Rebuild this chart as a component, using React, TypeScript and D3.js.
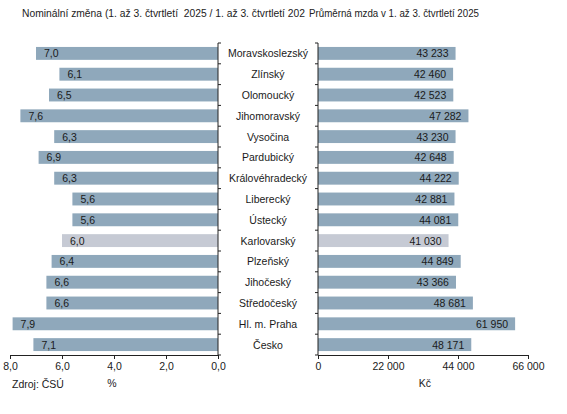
import { useRef, useEffect } from 'react';
import * as d3 from 'd3';

const regions = [
  'Moravskoslezský', 'Zlínský', 'Olomoucký', 'Jihomoravský', 'Vysočina', 'Pardubický',
  'Královéhradecký', 'Liberecký', 'Ústecký', 'Karlovarský', 'Plzeňský', 'Jihočeský',
  'Středočeský', 'Hl. m. Praha', 'Česko',
];
const nominalChange = [7.0, 6.1, 6.5, 7.6, 6.3, 6.9, 6.3, 5.6, 5.6, 6.0, 6.4, 6.6, 6.6, 7.9, 7.1];
const averageWage = [43233, 42460, 42523, 47282, 43230, 42648, 44222, 42881, 44081, 41030, 44849, 43366, 48681, 61950, 48171];
const changeTicks = [8, 6, 4, 2, 0];
const wageTicks = [0, 22000, 44000, 66000];
const highlighted = 'Karlovarský';

const leftTitle = 'Nominální změna (1. až 3. čtvrtletí  2025 / 1. až 3. čtvrtletí 202';
const rightTitle = 'Průměrná mzda v 1. až 3. čtvrtletí 2025';

const cz = d3.formatLocale({ decimal: ',', thousands: '\u00a0', grouping: [3], currency: ['', ' Kč'] });
const fmtPct = cz.format('.1f');
const fmtWage = cz.format(',.0f');

export default function App() {
  const svgRef = useRef<SVGSVGElement>(null);
  const width = 567;
  const height = 414;

  useEffect(() => {
    if (!svgRef.current) return;
    const svg = d3.select(svgRef.current);
    svg.selectAll('*').remove();

    const font = '"Liberation Sans", Arial, sans-serif';
    const barColor = '#8fa8bb';
    const greyColor = '#c6cad4';
    const axisColor = '#222';
    const top = 43;
    const bottom = 355;

    const y = d3.scaleBand().domain(regions).range([top, bottom]).paddingInner(0.38).paddingOuter(0.19);
    const xL = d3.scaleLinear().domain([0, 8]).range([218, 10]);
    const xR = d3.scaleLinear().domain([0, 66000]).range([318, 528]);

    const leftData = regions.map((r, i) => ({ r, v: nominalChange[i] }));
    const rightData = regions.map((r, i) => ({ r, v: averageWage[i] }));

    // Titles (the left one is cut off in the original)
    svg.append('text').attr('x', 22).attr('y', 17).attr('font-family', font).attr('font-size', 10)
      .attr('fill', '#222').attr('xml:space', 'preserve')
      .attr('textLength', 283).attr('lengthAdjust', 'spacingAndGlyphs').text(leftTitle);
    svg.append('text').attr('x', 309).attr('y', 17).attr('font-family', font).attr('font-size', 10)
      .attr('fill', '#222')
      .attr('textLength', 170).attr('lengthAdjust', 'spacingAndGlyphs').text(rightTitle);

    // Left bars
    svg.append('g').selectAll('rect').data(leftData).join('rect')
      .attr('x', (d) => xL(d.v))
      .attr('y', (d) => y(d.r)!)
      .attr('width', (d) => xL(0) - xL(d.v))
      .attr('height', y.bandwidth())
      .attr('fill', (d) => (d.r === highlighted ? greyColor : barColor));
    svg.append('g').selectAll('text').data(leftData).join('text')
      .attr('x', (d) => xL(d.v) + 8)
      .attr('y', (d) => y(d.r)! + y.bandwidth() / 2 + 4)
      .attr('font-family', font).attr('font-size', 10.5).attr('fill', '#1a1a1a')
      .text((d) => fmtPct(d.v));

    // Right bars
    svg.append('g').selectAll('rect').data(rightData).join('rect')
      .attr('x', xR(0))
      .attr('y', (d) => y(d.r)!)
      .attr('width', (d) => xR(d.v) - xR(0))
      .attr('height', y.bandwidth())
      .attr('fill', (d) => (d.r === highlighted ? greyColor : barColor));
    svg.append('g').selectAll('text').data(rightData).join('text')
      .attr('x', (d) => xR(d.v) - 7)
      .attr('y', (d) => y(d.r)! + y.bandwidth() / 2 + 4)
      .attr('text-anchor', 'end')
      .attr('font-family', font).attr('font-size', 10.5).attr('fill', '#1a1a1a')
      .text((d) => fmtWage(d.v));

    // Category labels
    svg.append('g').selectAll('text').data(regions).join('text')
      .attr('x', 268)
      .attr('y', (d) => y(d)! + y.bandwidth() / 2 + 4)
      .attr('text-anchor', 'middle')
      .attr('font-family', font).attr('font-size', 10.5).attr('fill', '#1a1a1a')
      .text((d) => d);

    // Category separators on the vertical axes
    const boundaries = d3.range(regions.length + 1).map((i) => top + (i * (bottom - top)) / regions.length);
    const vL = svg.append('g').attr('stroke', axisColor);
    vL.append('line').attr('x1', xL(0)).attr('x2', xL(0)).attr('y1', top).attr('y2', bottom);
    vL.selectAll('line.t').data(boundaries).join('line').attr('class', 't')
      .attr('x1', xL(0)).attr('x2', xL(0) + 3).attr('y1', (d) => d).attr('y2', (d) => d);
    const vR = svg.append('g').attr('stroke', axisColor);
    vR.append('line').attr('x1', xR(0)).attr('x2', xR(0)).attr('y1', top).attr('y2', bottom);
    vR.selectAll('line.t').data(boundaries).join('line').attr('class', 't')
      .attr('x1', xR(0) - 3).attr('x2', xR(0)).attr('y1', (d) => d).attr('y2', (d) => d);

    // Bottom axes
    const styleAxis = (el: d3.Selection<SVGGElement, unknown, null, undefined>) => {
      el.select('.domain').attr('stroke', axisColor);
      el.selectAll('.tick line').attr('stroke', axisColor);
      el.selectAll('.tick text').attr('fill', '#1a1a1a').attr('font-size', 10.5).attr('font-family', font);
    };
    svg.append('g').attr('transform', `translate(0,${bottom})`)
      .call(d3.axisBottom(xL).tickValues(changeTicks).tickSize(4).tickSizeOuter(0).tickPadding(4).tickFormat((d) => fmtPct(d as number)))
      .call(styleAxis);
    svg.append('g').attr('transform', `translate(0,${bottom})`)
      .call(d3.axisBottom(xR).tickValues(wageTicks).tickSize(4).tickSizeOuter(0).tickPadding(4).tickFormat((d) => fmtWage(d as number)))
      .call(styleAxis);

    // Axis units and source
    svg.append('text').attr('x', 112).attr('y', 387).attr('text-anchor', 'middle')
      .attr('font-family', font).attr('font-size', 10.5).attr('fill', '#1a1a1a').text('%');
    svg.append('text').attr('x', 425).attr('y', 387).attr('text-anchor', 'middle')
      .attr('font-family', font).attr('font-size', 10.5).attr('fill', '#1a1a1a').text('Kč');
    svg.append('text').attr('x', 12).attr('y', 388)
      .attr('font-family', font).attr('font-size', 10.5).attr('fill', '#1a1a1a').text('Zdroj: ČSÚ');
  }, []);

  return (
    <div style={{ position: 'absolute', left: 0, top: 0, background: '#fff' }}>
      <svg ref={svgRef} width={width} height={height} viewBox={`0 0 ${width} ${height}`} />
    </div>
  );
}
